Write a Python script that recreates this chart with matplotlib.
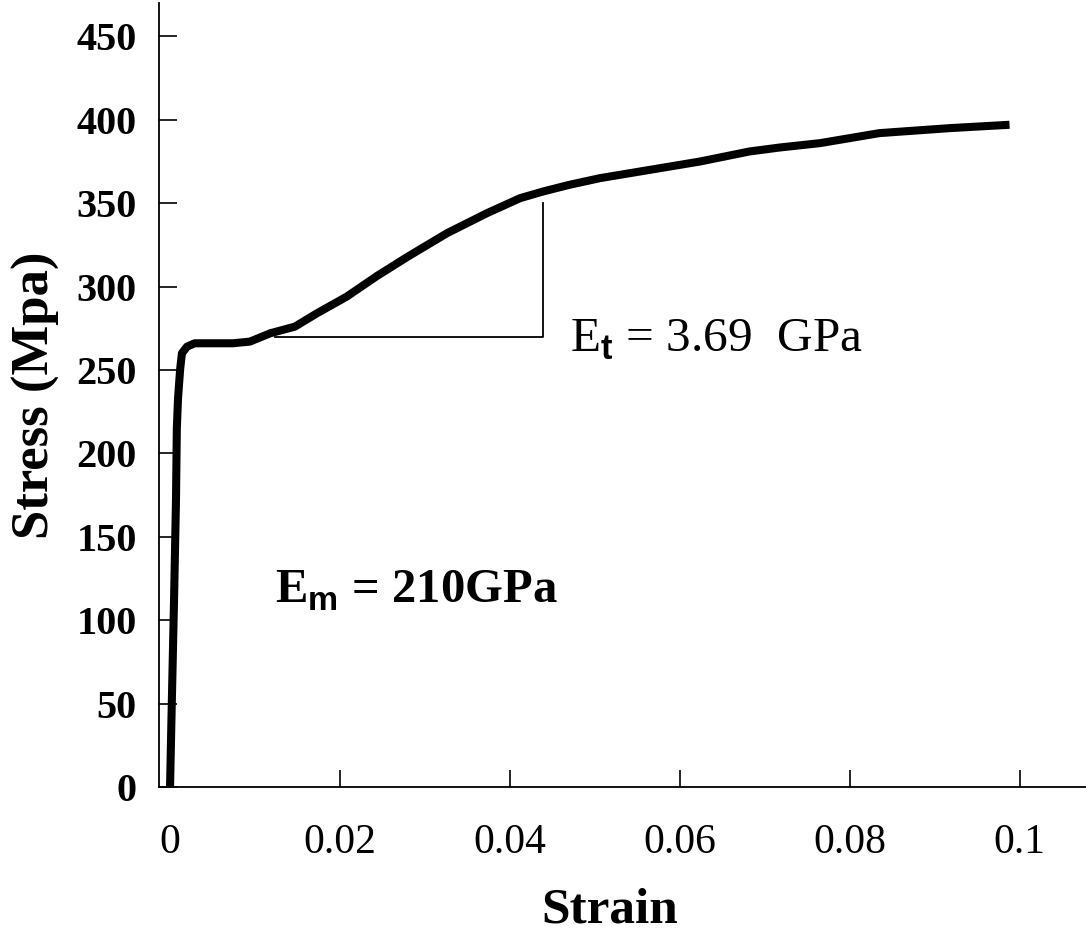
import matplotlib
matplotlib.use('Agg')
import matplotlib.pyplot as plt

# stress-strain curve
strain = [0.0, 0.00024, 0.00047, 0.0007, 0.0008, 0.00094, 0.0012, 0.0014, 0.002, 0.0029,
          0.0047, 0.0074, 0.0094, 0.0118, 0.0147, 0.0173, 0.0208, 0.0244, 0.028, 0.0326,
          0.0373, 0.0412, 0.0439, 0.047, 0.0506, 0.0565, 0.0624, 0.0682, 0.0718, 0.0765,
          0.0835, 0.0918, 0.0988]
stress = [0, 58, 112, 172, 215, 233, 251, 260, 264, 266,
          266, 266, 267, 272, 276, 284, 294, 306.5, 318, 332,
          344, 353, 357, 361, 365, 370, 375, 381, 383.4, 386,
          392, 395, 397]

# tangent modulus triangle
tri_x = [0.01235, 0.0439, 0.0439]
tri_y = [270, 270, 350]

xticks = [0, 0.02, 0.04, 0.06, 0.08, 0.1]
xticklabels = ['0', '0.02', '0.04', '0.06', '0.08', '0.1']
yticks = [0, 50, 100, 150, 200, 250, 300, 350, 400, 450]

plt.rcParams['font.family'] = 'Liberation Serif'
plt.rcParams['mathtext.fontset'] = 'custom'
plt.rcParams['mathtext.rm'] = 'Liberation Serif'
plt.rcParams['mathtext.bf'] = 'Liberation Serif:bold'
plt.rcParams['mathtext.sf'] = 'Liberation Sans:bold'

fig = plt.figure(figsize=(10.86, 9.41), dpi=100)
ax = fig.add_axes([0.1464, 0.1637, 0.8536, 0.8331])

ax.plot(strain, stress, color='black', lw=5.8, solid_capstyle='butt')
ax.plot(tri_x, tri_y, color='black', lw=1.3)

ax.text(0.0471, 261, r'E$_{\mathsf{t}}$ = 3.69  GPa', fontsize=35.5, va='baseline')
ax.text(0.01235, 110.6, r'$\mathbf{E}_{\mathsf{m}}$ = 210GPa', fontsize=35,
        fontweight='bold', va='baseline')

ax.set_xlim(-0.0013, 0.1078)
ax.set_ylim(0, 470)
ax.set_xticks(xticks)
ax.set_xticklabels(xticklabels)
ax.set_yticks(yticks)

for s in ['top', 'right']:
    ax.spines[s].set_visible(False)
for s in ['left', 'bottom']:
    ax.spines[s].set_linewidth(1.3)

ax.tick_params(axis='y', direction='in', length=13, width=1.2, pad=16, labelsize=29)
ax.tick_params(axis='x', direction='in', length=12, width=1.2, pad=26, labelsize=30)
for lab in ax.get_yticklabels():
    lab.set_fontweight('bold')

ax.set_xlabel('Strain', fontsize=37, fontweight='bold', labelpad=22)
ax.xaxis.set_label_coords(0.4865, -0.128)
ax.set_ylabel('Stress (Mpa)', fontsize=38, fontweight='bold', labelpad=12)

fig.savefig('out.png', dpi=100)
